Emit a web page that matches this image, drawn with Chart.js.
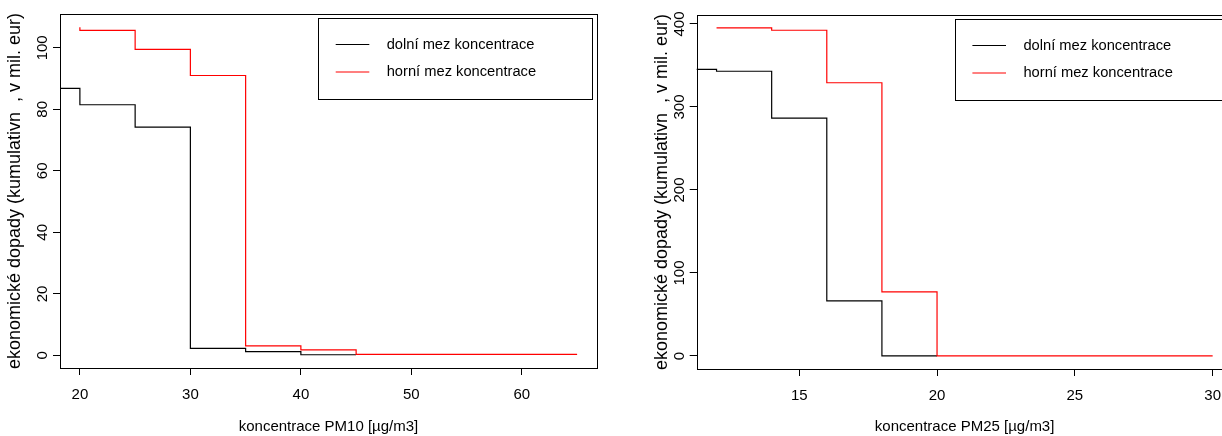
<!DOCTYPE html>
<html>
<head>
<meta charset="utf-8">
<script src="https://cdn.jsdelivr.net/npm/chart.js@4.4.0/dist/chart.umd.min.js"></script>
<style>
  html, body { margin: 0; padding: 0; background: #fff; overflow: hidden; width: 1222px; height: 436px; }
  #wrap { position: relative; width: 1222px; height: 436px; overflow: hidden; }
  canvas { position: absolute; top: 0; }
</style>
</head>
<body>
<div id="wrap">
  <canvas id="pm10" width="611" height="436" style="left:0;width:611px;height:436px"></canvas>
  <canvas id="pm25" width="640" height="436" style="left:611px;width:640px;height:436px"></canvas>
</div>
<script>
// Series names and axis texts
const seriesNames = ['dolní mez koncentrace', 'horní mez koncentrace'];
const yAxisTitle = 'ekonomické dopady (kumulativn  , v mil. eur)';
const xTitlePM10 = 'koncentrace PM10 [µg/m3]';
const xTitlePM25 = 'koncentrace PM25 [µg/m3]';

// PM10: step values (value holds from each concentration to the next)
const pm10LowerConc  = [17, 20, 25, 30, 35, 40, 45];
const pm10LowerValue = [86.8, 81.5, 74.2, 2.3, 1.2, 0.2, 0.2];
const pm10UpperConc  = [20, 20, 25, 30, 35, 40, 45, 65];
const pm10UpperValue = [106.7, 105.7, 99.5, 91.0, 3.1, 1.8, 0.3, 0.3];

// PM2.5: step values
const pm25LowerConc  = [11, 12, 14, 16, 18, 20];
const pm25LowerValue = [345.4, 343.0, 286.6, 66.3, 0, 0];
const pm25UpperConc  = [12, 14, 16, 18, 20, 30];
const pm25UpperValue = [395.2, 392.4, 329.2, 77.1, 0, 0];

// Tick labels
const pm10XTicks = [20, 30, 40, 50, 60];
const pm10YTicks = [0, 20, 40, 60, 80, 100];
const pm25XTicks = [15, 20, 25, 30];
const pm25YTicks = [0, 100, 200, 300, 400];

const FONT = '"Liberation Sans", Arial, Helvetica, sans-serif';
const seriesColors = ['#000000', '#ff0000'];

function toPoints(xs, ys) { return xs.map((x, i) => ({ x: x, y: ys[i] })); }

// Frame, rotated y labels, y title and legend box in the style of base graphics
const decorPlugin = {
  id: 'decor',
  afterDraw(chart, args, o) {
    const ctx = chart.ctx;
    const a = chart.chartArea;
    const ys = chart.scales.y;
    ctx.save();
    // plot frame
    ctx.strokeStyle = '#000';
    ctx.lineWidth = 1;
    ctx.strokeRect(Math.round(a.left) + 0.5, Math.round(a.top) + 0.5,
                   Math.round(a.right - a.left), Math.round(a.bottom - a.top));
    // y tick labels, rotated
    ctx.fillStyle = '#000';
    ctx.font = '15px ' + FONT;
    ctx.textAlign = 'center';
    ctx.textBaseline = 'middle';
    ys.ticks.forEach(t => {
      const py = ys.getPixelForValue(t.value);
      ctx.save();
      ctx.translate(a.left - o.yLabelGap, py);
      ctx.rotate(-Math.PI / 2);
      ctx.fillText(String(t.value), 0, 0);
      ctx.restore();
    });
    // y axis title
    ctx.save();
    ctx.font = o.yTitleSize + 'px ' + FONT;
    ctx.translate(a.left - o.yTitleGap, (a.top + a.bottom) / 2);
    ctx.rotate(-Math.PI / 2);
    ctx.fillText(yAxisTitle, 0, 0);
    ctx.restore();
    // legend
    const lx = a.left + 258, ly = a.top + 3.5, lw = 274, lh = 81;
    ctx.lineWidth = 1;
    ctx.strokeStyle = '#000';
    ctx.strokeRect(Math.round(lx) + 0.5, Math.round(ly) + 0.5, lw, lh);
    ctx.font = '14.7px ' + FONT;
    ctx.textAlign = 'left';
    chart.data.datasets.forEach((ds, i) => {
      const ry = ly + 27 + i * 27.5;
      ctx.strokeStyle = ds.borderColor;
      ctx.lineWidth = 1.2;
      ctx.beginPath();
      ctx.moveTo(lx + 17.7, ry);
      ctx.lineTo(lx + 51.3, ry);
      ctx.stroke();
      ctx.fillStyle = '#000';
      ctx.fillText(ds.label, lx + 68.7, ry);
    });
    ctx.restore();
  }
};

function makeChart(id, cfg) {
  const datasets = [
    { label: seriesNames[0], data: toPoints(cfg.lowerX, cfg.lowerY), borderColor: seriesColors[0], order: 1 },
    { label: seriesNames[1], data: toPoints(cfg.upperX, cfg.upperY), borderColor: seriesColors[1], order: 0 }
  ].map(d => Object.assign(d, {
    stepped: 'before', borderWidth: 1.2, pointRadius: 0, fill: false, tension: 0, showLine: true
  }));

  const axisCommon = {
    type: 'linear',
    border: { display: false },
    grid: { drawOnChartArea: false, drawTicks: true, tickLength: 7, color: '#000', lineWidth: 1 }
  };

  return new Chart(document.getElementById(id), {
    type: 'line',
    data: { datasets },
    plugins: [decorPlugin],
    options: {
      responsive: false,
      animation: false,
      devicePixelRatio: 1,
      layout: { padding: { left: cfg.padLeft, top: cfg.padTop, right: cfg.padRight, bottom: 0 } },
      plugins: {
        legend: { display: false },
        tooltip: { enabled: false },
        decor: { yLabelGap: 16.7, yTitleGap: cfg.yTitleGap, yTitleSize: 18 }
      },
      scales: {
        x: Object.assign({}, axisCommon, {
          min: cfg.xMin, max: cfg.xMax,
          afterBuildTicks: s => { s.ticks = cfg.xTicks.map(v => ({ value: v })); },
          afterFit: s => { s.height = cfg.xAxisHeight; },
          ticks: { color: '#000', font: { family: FONT, size: 15 }, padding: 11, maxRotation: 0, autoSkip: false },
          title: { display: true, text: cfg.xTitle, color: '#000', font: { family: FONT, size: 15 }, padding: { top: 0, bottom: 0 } }
        }),
        y: Object.assign({}, axisCommon, {
          min: cfg.yMin, max: cfg.yMax,
          afterBuildTicks: s => { s.ticks = cfg.yTicks.map(v => ({ value: v })); },
          afterFit: s => { s.width = 60; },
          ticks: { display: false }
        })
      }
    }
  });
}

makeChart('pm10', {
  lowerX: pm10LowerConc, lowerY: pm10LowerValue,
  upperX: pm10UpperConc, upperY: pm10UpperValue,
  xTicks: pm10XTicks, yTicks: pm10YTicks,
  xMin: 18.2, xMax: 66.8, yMin: -4.1, yMax: 111,
  xTitle: xTitlePM10,
  padLeft: 0, padTop: 14, padRight: 14, xAxisHeight: 68,
  yTitleGap: 45
});

makeChart('pm25', {
  lowerX: pm25LowerConc, lowerY: pm25LowerValue,
  upperX: pm25UpperConc, upperY: pm25UpperValue,
  xTicks: pm25XTicks, yTicks: pm25YTicks,
  xMin: 11.28, xMax: 30.72, yMin: -15.7, yMax: 410.8,
  xTitle: xTitlePM25,
  padLeft: 25.7, padTop: 15, padRight: 18.5, xAxisHeight: 67,
  yTitleGap: 34.5
});
</script>
</body>
</html>
